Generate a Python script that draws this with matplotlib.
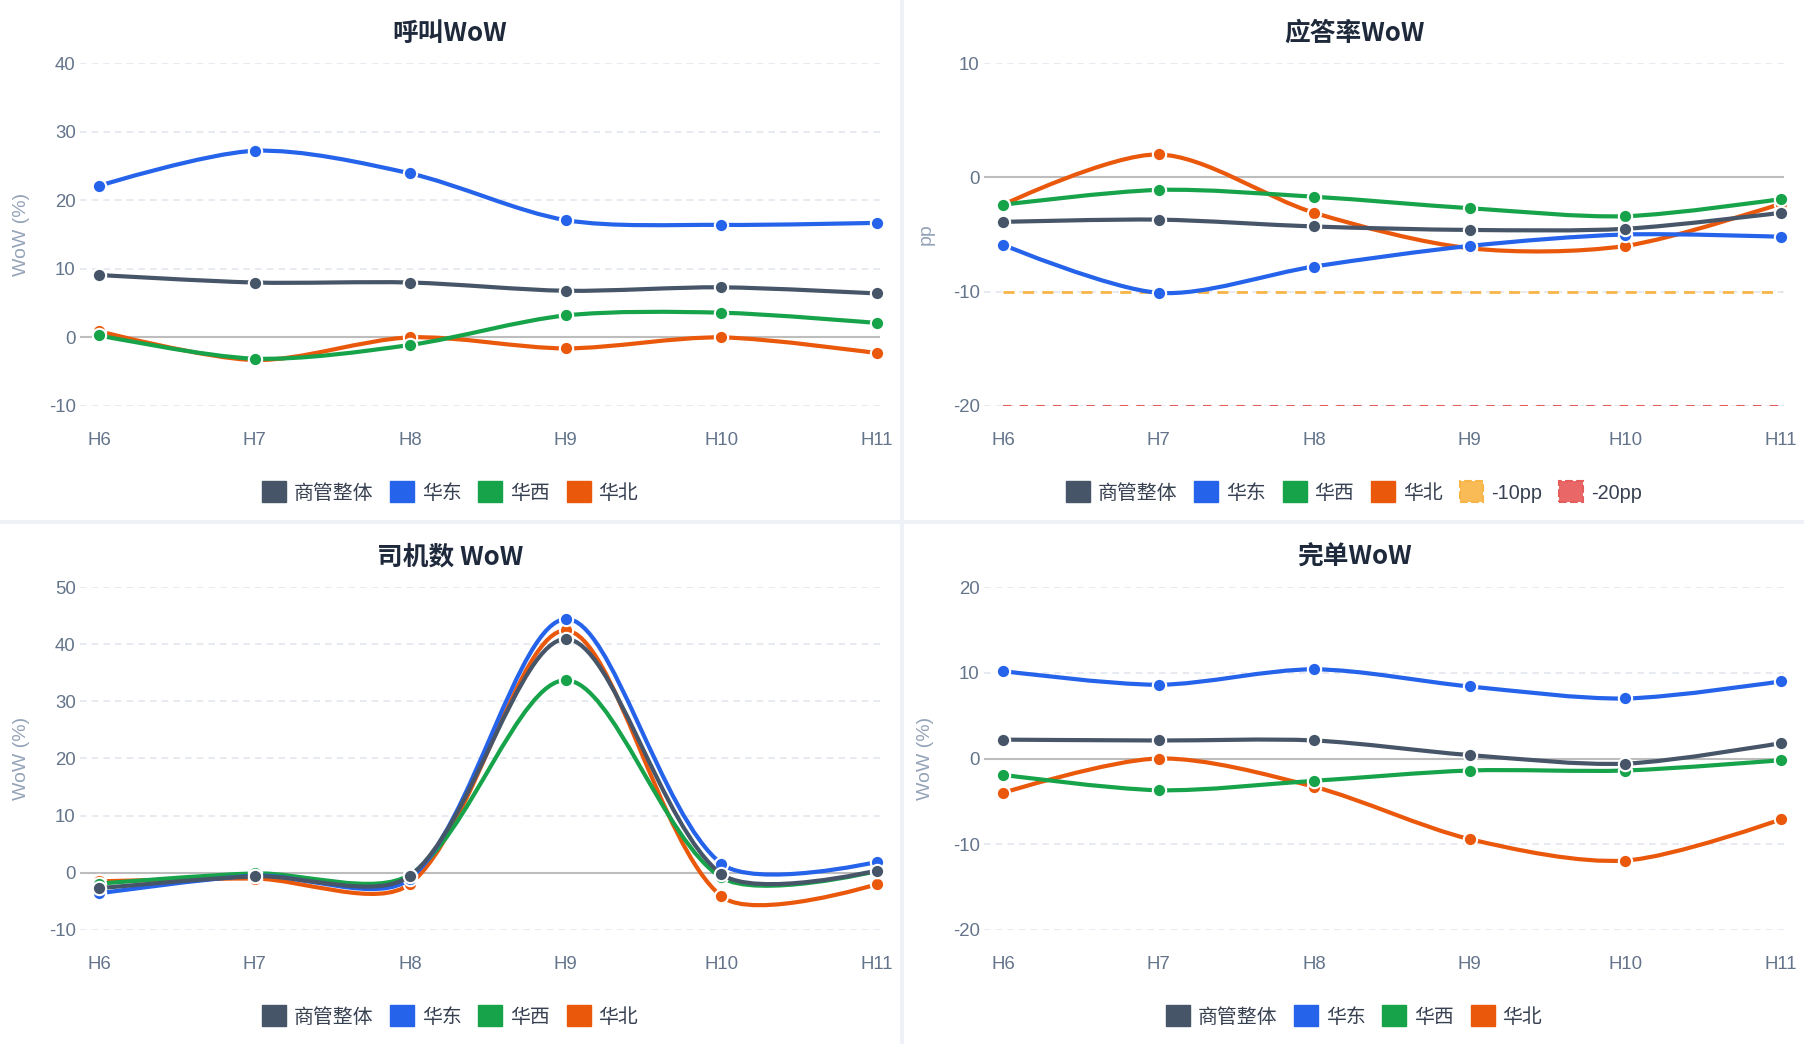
import matplotlib
matplotlib.use('Agg')
import matplotlib.pyplot as plt
from matplotlib.path import Path
from matplotlib.patches import PathPatch, Patch, Rectangle
import numpy as np

plt.rcParams['font.family'] = ['Liberation Sans', 'Noto Sans CJK SC', 'DejaVu Sans']

# ---------------- data ----------------
categories = ['H6', 'H7', 'H8', 'H9', 'H10', 'H11']
series_names = ['商管整体', '华东', '华西', '华北']
series_colors = ['#475569', '#2563eb', '#16a34a', '#ea580c']

call_wow = {
    '商管整体': [9.1, 8.0, 8.0, 6.8, 7.3, 6.4],
    '华东': [22.1, 27.2, 23.9, 17.1, 16.4, 16.7],
    '华西': [0.3, -3.1, -1.1, 3.2, 3.6, 2.1],
    '华北': [0.9, -3.3, 0.0, -1.6, 0.0, -2.3],
}
answer_rate_wow = {
    '商管整体': [-3.9, -3.7, -4.3, -4.6, -4.5, -3.1],
    '华东': [-5.9, -10.1, -7.8, -6.0, -5.0, -5.2],
    '华西': [-2.4, -1.1, -1.7, -2.7, -3.4, -1.9],
    '华北': [-2.4, 2.0, -3.1, -6.2, -6.0, -2.3],
}
driver_wow = {
    '商管整体': [-2.7, -0.6, -0.5, 40.9, -0.2, 0.4],
    '华东': [-3.6, -0.5, -1.0, 44.4, 1.6, 1.9],
    '华西': [-1.9, -0.1, -0.3, 33.7, -0.8, 0.3],
    '华北': [-1.5, -1.0, -1.9, 42.4, -4.1, -2.0],
}
complete_wow = {
    '商管整体': [2.2, 2.1, 2.1, 0.4, -0.6, 1.8],
    '华东': [10.2, 8.6, 10.4, 8.4, 7.0, 9.0],
    '华西': [-1.9, -3.7, -2.6, -1.4, -1.4, -0.2],
    '华北': [-4.0, 0.0, -3.3, -9.4, -11.9, -7.1],
}
threshold_values = [-10, -20]
threshold_names = ['-10pp', '-20pp']
threshold_colors = ['#f7b548', '#e35d5d']
threshold_fill = ['#f9bb55', '#e96767']

titles = ['呼叫WoW', '应答率WoW', '司机数 WoW', '完单WoW']
ylabels = ['WoW (%)', 'pp', 'WoW (%)', 'WoW (%)']
ylims = [(-10, 40), (-20, 10), (-10, 50), (-20, 20)]
datasets = [call_wow, answer_rate_wow, driver_wow, complete_wow]

# ---------------- layout ----------------
W, H = 1804, 1044
fig = plt.figure(figsize=(W / 100, H / 100), dpi=100)
fig.patch.set_facecolor('#eef1f5')

def fx(x):
    return x / W

def fy(y):
    return 1 - y / H

# panel cards
for (l, t, r, b) in [(0, 0, 900, 520), (904, 0, 1804, 520), (0, 524, 900, 1044), (904, 524, 1804, 1044)]:
    fig.add_artist(Rectangle((fx(l), fy(b)), (r - l) / W, (b - t) / H, transform=fig.transFigure,
                             facecolor='white', edgecolor='none', zorder=-10))

col_off = [0, 904]
row_off = [0, 524]
AX_L, AX_W, AX_T, AX_H = 80, 800, 63, 343
LEFT_PAD = 19
X_UNIT = 778 / (len(categories) - 1)
SMOOTH = 0.3


def smooth_path(xs, ys, sx, sy, smooth=SMOOTH):
    px = np.asarray(xs, float) * sx
    py = np.asarray(ys, float) * sy
    n = len(px)
    verts = [(px[0], py[0])]
    codes = [Path.MOVETO]
    cpx0, cpy0 = px[0], py[0]
    for i in range(1, n):
        x, y = px[i], py[i]
        prx, pry = px[i - 1], py[i - 1]
        if i + 1 >= n:
            ncx, ncy = x, y
            vx = vy = 0.0
            ratio = 0.5
        else:
            nx, ny = px[i + 1], py[i + 1]
            vx, vy = nx - prx, ny - pry
            l0 = np.hypot(x - prx, y - pry)
            l1 = np.hypot(nx - x, ny - y)
            ratio = l1 / (l0 + l1) if (l0 + l1) > 0 else 0.5
            ncx = x - vx * smooth * (1 - ratio)
            ncy = y - vy * smooth * (1 - ratio)
        verts += [(cpx0, cpy0), (ncx, ncy), (x, y)]
        codes += [Path.CURVE4] * 3
        cpx0 = x + vx * smooth * ratio
        cpy0 = y + vy * smooth * ratio
    verts = [(a / sx, b / sy) for a, b in verts]
    return Path(verts, codes)


xs = np.arange(len(categories))
for k in range(4):
    r, c = divmod(k, 2)
    ox, oy = col_off[c], row_off[r]
    ax = fig.add_axes([fx(ox + AX_L), fy(oy + AX_T + AX_H), AX_W / W, AX_H / H])
    ax.set_facecolor('none')
    for s in ax.spines.values():
        s.set_visible(False)
    lo, hi = ylims[k]
    ax.set_ylim(lo, hi)
    ax.set_xlim(-LEFT_PAD / X_UNIT, (AX_W - LEFT_PAD) / X_UNIT)
    ticks = np.arange(lo, hi + 1, 10)
    ax.set_yticks(ticks)
    ax.set_yticklabels([f'{int(v)}' for v in ticks])
    ax.set_xticks(xs)
    ax.set_xticklabels(categories)
    ax.tick_params(axis='both', length=0, labelsize=13.4, colors='#64748b')
    ax.tick_params(axis='y', pad=3)
    ax.tick_params(axis='x', pad=19)
    ax.yaxis.grid(True, color='#e3e8ef', linestyle=(0, (4, 3)), lw=1.2)
    ax.set_axisbelow(True)
    ax.axhline(0, color='#bdbdbd', lw=1.5, zorder=1.5)

    sx = X_UNIT
    sy = AX_H / (hi - lo)
    data = datasets[k]
    handles = []
    order = list(range(len(series_names)))[::-1]
    for j, si in enumerate(order):
        name = series_names[si]
        col = series_colors[si]
        vals = data[name]
        path = smooth_path(xs, vals, sx, sy)
        ax.add_patch(PathPatch(path, facecolor='none', edgecolor=col, lw=3.0,
                               capstyle='round', joinstyle='round', zorder=3 + 2 * j))
        ax.plot(xs, vals, 'o', ms=9.6, mfc=col, mec='white', mew=1.5, zorder=4 + 2 * j,
                clip_on=False)
    for si, name in enumerate(series_names):
        handles.append(Patch(facecolor=series_colors[si], edgecolor=series_colors[si], label=name))

    if k == 1:
        for tv, tn, tc, tf in zip(threshold_values, threshold_names, threshold_colors, threshold_fill):
            ax.hlines(tv, xs[0], xs[-1], colors=tc, lw=2.0 if tv == -10 else 1.5,
                      linestyles=(0, (4, 3)) if tv == -10 else (0, (4, 4)), zorder=2)
            handles.append(Patch(facecolor=tf, edgecolor=tc, linestyle='--', lw=1.5, label=tn))

    pcx = ox + 450
    fig.text(fx(pcx), fy(oy + 33), titles[k], ha='center', va='center', fontsize=18.5,
             fontweight='bold', color='#1e293b', family=['Noto Sans CJK SC', 'DejaVu Sans'])
    fig.text(fx(ox + 22), fy(oy + AX_T + AX_H / 2), ylabels[k], rotation=90, ha='center',
             va='center', fontsize=14, color='#94a3b8')
    leg = ax.legend(handles=handles, loc='center', bbox_to_anchor=(fx(pcx), fy(oy + 492)),
                    bbox_transform=fig.transFigure, ncol=len(handles), frameon=False,
                    fontsize=14.3, handlelength=1.2, handleheight=1.25, handletextpad=0.4,
                    columnspacing=0.85, borderpad=0, borderaxespad=0)
    for t in leg.get_texts():
        t.set_color('#374151')

fig.savefig('out.png', dpi=100, facecolor=fig.get_facecolor())
